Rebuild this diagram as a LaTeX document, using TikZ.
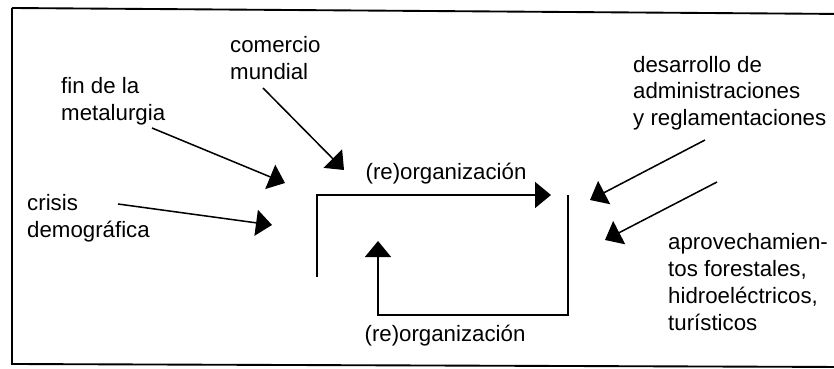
\documentclass[tikz,border=0pt]{standalone}
\usepackage{fontspec}
\setmainfont{Liberation Sans}
\usetikzlibrary{arrows.meta}
\begin{document}
\begin{tikzpicture}[x=0.3mm,y=-0.3mm,
  lbl/.style={font=\fontsize{19}{23}\selectfont, align=left, inner sep=0pt, anchor=west},
  conn/.style={line width=1.3pt},
  arr/.style={conn, -{Triangle[length=4.8mm,width=7.8mm]}}]
\useasboundingbox (0,0) rectangle (834,369);
\draw[line width=1.6pt] (12,8) -- (845,14) (12,8) -- (12,364) -- (845,367);
% labels
\node[lbl] (com) at (230,58) {comercio\\mundial};
\node[lbl] (fin) at (61,101) {fin de la\\metalurgia};
\node[lbl] (cri) at (27,218) {crisis\\demográfica};
\node[lbl,font=\fontsize{19}{22.5}\selectfont] (des) at (633,93) {desarrollo de\\administraciones\\y reglamentaciones};
\node[lbl] (apr) at (668,282) {aprovechamien-\\tos forestales,\\hidroeléctricos,\\turísticos};
\node[lbl,anchor=center] (org1) at (446,174) {(re)organización};
\node[lbl,anchor=center] (org2) at (445,336) {(re)organización};
% input arrows
\coordinate (comS) at (263,88);  \coordinate (comE) at (344,170);
\coordinate (finS) at (152,128); \coordinate (finE) at (285,183);
\coordinate (criS) at (118,204); \coordinate (criE) at (272,225);
\coordinate (desS) at (705,140); \coordinate (desE) at (590,200);
\coordinate (aprS) at (717,182); \coordinate (aprE) at (605,240);
\draw[arr] (comS) -- (comE);
\draw[arr] (finS) -- (finE);
\draw[arr] (criS) -- (criE);
\draw[arr] (desS) -- (desE);
\draw[arr] (aprS) -- (aprE);
% loop
\coordinate (a1) at (317,277);
\coordinate (a2) at (317,195);
\coordinate (a3) at (551,195);
\coordinate (b1) at (568,195);
\coordinate (b2) at (568,315);
\coordinate (b3) at (378,315);
\coordinate (b4) at (378,241);
\draw[arr] (a1) -- (a2) -- (a3);
\draw[arr] (b1) -- (b2) -- (b3) -- (b4);
\end{tikzpicture}
\end{document}
